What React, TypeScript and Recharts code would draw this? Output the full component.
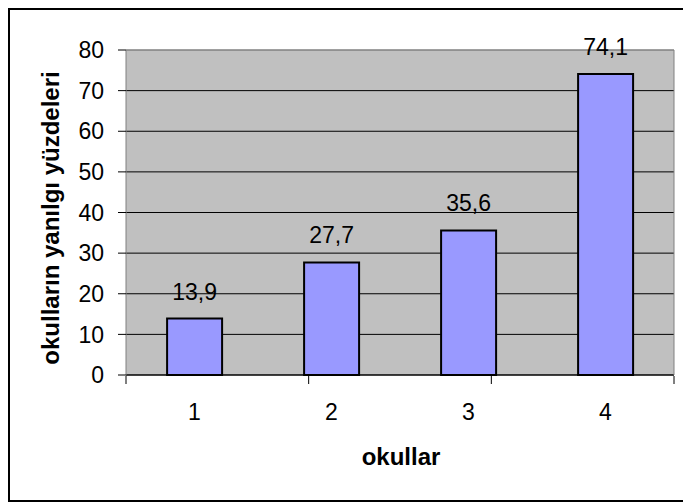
import React from "react"
import {
  Bar,
  BarChart,
  CartesianGrid,
  LabelList,
  XAxis,
  YAxis,
} from "recharts"

const okullar = ["1", "2", "3", "4"]
const yanilgiYuzdeleri = [13.9, 27.7, 35.6, 74.1]
const yTicks = [0, 10, 20, 30, 40, 50, 60, 70, 80]
const gridValues = [10, 20, 30, 40, 50, 60, 70]
const boundaryTicks = [0, 1, 2, 3, 4]

const data = okullar.map((okul, i) => ({ okul, value: yanilgiYuzdeleri[i] }))

const FONT = '"Liberation Sans", Arial, sans-serif'

const fmt = (v: any) => Number(v).toFixed(1).replace(".", ",")

export default function App() {
  return (
    <div
      style={{
        position: "absolute",
        left: 8,
        top: 8,
        width: 675,
        height: 494,
        fontFamily: FONT,
        background: "#fff",
      }}
    >
      <BarChart
        width={675}
        height={494}
        data={data}
        margin={{ top: 41, right: 8, bottom: 125, left: 28 }}
        barCategoryGap="30%"
      >
        <CartesianGrid
          vertical={false}
          horizontalValues={gridValues}
          stroke="#000"
          fill="#C0C0C0"
          fillOpacity={1}
        />
        <XAxis
          dataKey="okul"
          height={1}
          tickLine={false}
          tickSize={0}
          tickMargin={29}
          axisLine={{ stroke: "#000", strokeWidth: 1.5 }}
          tick={{ fill: "#000", fontSize: 23, fontFamily: FONT }}
          label={() => (
            <text
              x={393}
              y={457}
              textAnchor="middle"
              fontSize={24}
              fontWeight="bold"
              fill="#000"
              fontFamily={FONT}
            >
              okullar
            </text>
          )}
        />
        <XAxis
          xAxisId="ticks"
          type="number"
          domain={[0, 4]}
          ticks={boundaryTicks}
          interval={0}
          allowDataOverflow
          tick={() => <g />}
          tickLine={{ stroke: "#000" }}
          tickSize={8}
          axisLine={false}
          height={1}
        />
        <XAxis
          xAxisId="top"
          dataKey="okul"
          orientation="top"
          height={1}
          tick={false}
          tickLine={false}
          axisLine={{ stroke: "#808080", strokeWidth: 1.5 }}
        />
        <YAxis
          width={90}
          domain={[0, 80]}
          ticks={yTicks}
          tickSize={8}
          tickMargin={14}
          tickLine={{ stroke: "#000" }}
          axisLine={{ stroke: "#808080" }}
          tick={{ fill: "#000", fontSize: 23, fontFamily: FONT }}
          label={() => (
            <text
              x={51}
              y={210}
              transform="rotate(-90, 51, 210)"
              textAnchor="middle"
              fontSize={24}
              fontWeight="bold"
              fill="#000"
              fontFamily={FONT}
            >
              okulların yanılgı yüzdeleri
            </text>
          )}
        />
        <YAxis
          yAxisId="r"
          orientation="right"
          width={1}
          domain={[0, 80]}
          tick={false}
          tickLine={false}
          axisLine={{ stroke: "#808080" }}
        />
        <Bar
          dataKey="value"
          fill="#9999FF"
          stroke="#000"
          strokeWidth={2}
          isAnimationActive={false}
        >
          <LabelList
            dataKey="value"
            position="top"
            offset={19}
            formatter={fmt}
            fill="#000"
            fontSize={23}
            fontFamily={FONT}
          />
        </Bar>
      </BarChart>
      <div
        style={{
          position: "absolute",
          inset: 0,
          boxSizing: "border-box",
          borderTop: "2px solid #000",
          borderLeft: "2px solid #000",
          borderBottom: "2px solid #000",
          pointerEvents: "none",
        }}
      />
    </div>
  )
}
